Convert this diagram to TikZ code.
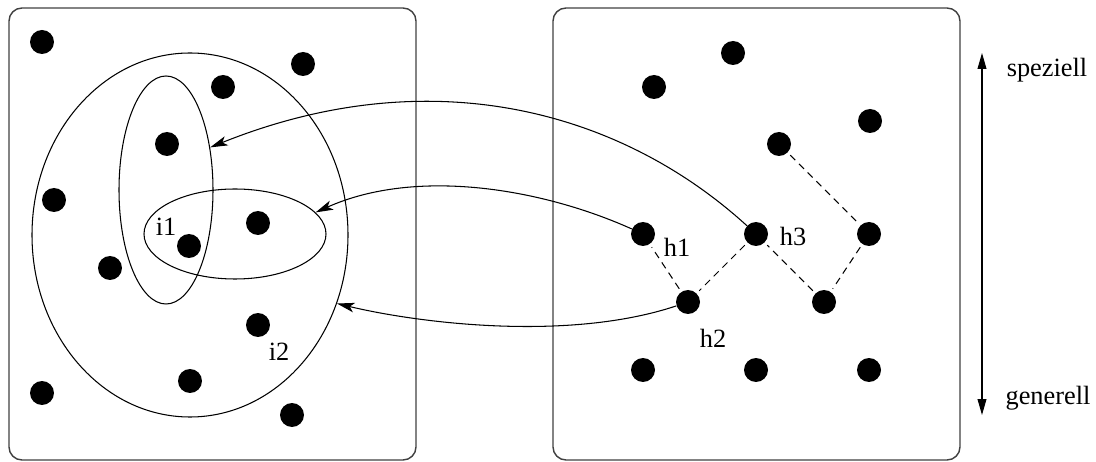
\documentclass[tikz,border=0pt]{standalone}
\usepackage{fontspec}
\setmainfont{Liberation Serif}
\usetikzlibrary{arrows.meta,shapes.geometric}
\begin{document}
\begin{tikzpicture}[x=0.02cm,y=-0.02cm,
  dot/.style={circle,fill=black,inner sep=0pt,minimum size=0.48cm},
  panel/.style={draw=black!75,line width=0.8pt,rounded corners=0.26cm},
  ring/.style={ellipse,draw,line width=0.6pt,inner sep=0pt},
  conn/.style={line width=0.6pt,-{Stealth[length=10pt,width=5.5pt,inset=2.5pt]}},
  dashline/.style={line width=0.6pt,dash pattern=on 4pt off 3pt,shorten <=2pt,shorten >=2pt},
  lbl/.style={inner sep=0pt,font=\fontsize{15}{18}\selectfont}]
\useasboundingbox (0,0) rectangle (1096,462);
% panels
\draw[panel] (9,8) rectangle (416,460);
\draw[panel] (553,8) rectangle (960,460);
% ellipses
\node[ring,minimum width=0.02cm*316,minimum height=0.02cm*364] (e3) at (190,235) {};
\node[ring,minimum width=0.02cm*94,minimum height=0.02cm*228] (e1) at (166,190) {};
\node[ring,minimum width=0.02cm*182,minimum height=0.02cm*90] (e2) at (235,234) {};
% left dots
\node[dot] (l1) at (42,42) {};
\node[dot] (l2) at (303,64) {};
\node[dot] (l3) at (223,87) {};
\node[dot] (l4) at (167,144) {};
\node[dot] (l5) at (54,200) {};
\node[dot] (l6) at (258,223) {};
\node[dot] (l7) at (189,246) {};
\node[dot] (l8) at (110,268) {};
\node[dot] (l9) at (258,325) {};
\node[dot] (l10) at (190,381) {};
\node[dot] (l11) at (42,393) {};
\node[dot] (l12) at (292,415) {};
\node[lbl] (ti1) at (166,227) {i1};
\node[lbl] (ti2) at (279,352) {i2};
% right dots
\node[dot] (r1) at (733,53) {};
\node[dot] (r2) at (654,87) {};
\node[dot] (r3) at (870,121) {};
\node[dot] (r4) at (779,144) {};
\node[dot] (h1) at (643,234) {};
\node[dot] (h3) at (756,234) {};
\node[dot] (r7) at (869,234) {};
\node[dot] (h2) at (688,302) {};
\node[dot] (r9) at (824,302) {};
\node[dot] (r10) at (643,370) {};
\node[dot] (r11) at (756,370) {};
\node[dot] (r12) at (869,370) {};
\node[lbl] (th1) at (677,247) {h1};
\node[lbl] (th3) at (793,236) {h3};
\node[lbl] (th2) at (713,338) {h2};
% dashed lattice
\draw[dashline] (r4) -- (r7);
\draw[dashline] (r7) -- (r9);
\draw[dashline] (r9) -- (h3);
\draw[dashline] (h3) -- (h2);
\draw[dashline] (h2) -- (h1);
% mapping arrows
\draw[conn] (h3) .. controls (620,110) and (430,59) .. (e1.44);
\draw[conn] (h1) .. controls (543,189) and (417,167) .. (e2.15);
\draw[conn] (h2) .. controls (568,342) and (418,323) .. (e3.-25);
% scale
\coordinate (sp) at (982,53);
\coordinate (ge) at (982,415);
\draw[line width=0.6pt,{Triangle[length=9pt,width=5pt]}-{Triangle[length=9pt,width=5pt]}] (sp) -- (ge);
\node[lbl] (tsp) at (1047,70) {speziell};
\node[lbl] (tge) at (1048,398) {generell};
\end{tikzpicture}
\end{document}
